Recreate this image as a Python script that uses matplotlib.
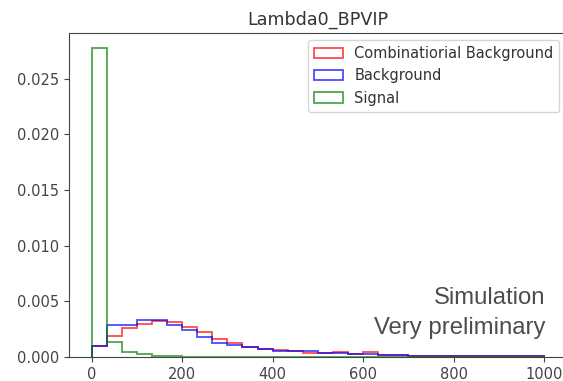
import numpy as np
import matplotlib
matplotlib.use("Agg")
import matplotlib.pyplot as plt

# bin edges: 30 bins between 0 and 1000
edges = np.linspace(0, 1000, 31)
centers = (edges[:-1] + edges[1:]) / 2

# normalised heights
comb_bkg = [0.00095, 0.0019, 0.0026, 0.0030, 0.0032, 0.0031, 0.0027, 0.0022, 0.0016, 0.0013,
            0.0009, 0.0007, 0.0006, 0.0005, 0.0004, 0.0004, 0.00042, 0.00027, 0.00042, 0.00018,
            0.00018, 0.00005, 0.00012, 0.00012, 0.00005, 0.00012, 0.00008, 0.00008, 0.00008, 0.00008]
background = [0.0010, 0.0029, 0.0029, 0.0033, 0.0033, 0.0029, 0.0024, 0.0018, 0.0013, 0.0011,
              0.0009, 0.0007, 0.0005, 0.0005, 0.0005, 0.0004, 0.00033, 0.00027, 0.00027, 0.00018,
              0.00018, 0.00005, 0.00012, 0.00012, 0.00005, 0.00012, 0.00008, 0.00008, 0.00008, 0.00008]
signal = [0.0277, 0.00138, 0.00048, 0.00024, 0.00012, 0.00008] + [0.0] * 24

labels = ["Combinatiorial Background", "Background", "Signal"]

plt.rcParams['font.size'] = 10.5
plt.rcParams['text.color'] = '#333333'
plt.rcParams['xtick.color'] = '#444444'
plt.rcParams['ytick.color'] = '#444444'
plt.rcParams['axes.edgecolor'] = '#444444'
plt.rcParams['axes.titlecolor'] = '#333333'

fig = plt.figure(figsize=(5.63, 3.81), dpi=100)
ax = fig.add_axes([0.1226, 0.063, 0.884, 0.8504])

ax.hist(centers, bins=edges, weights=comb_bkg, histtype='step', color='r', alpha=0.7, lw=1.3, label=labels[0])
ax.hist(centers, bins=edges, weights=background, histtype='step', color='b', alpha=0.7, lw=1.3, label=labels[1])
ax.hist(centers, bins=edges, weights=signal, histtype='step', color='g', alpha=0.7, lw=1.3, label=labels[2])

ax.set_title("Lambda0_BPVIP")
ax.set_xticks([0, 200, 400, 600, 800, 1000])
ax.legend(loc='upper right')

ax.text(1003, 0.0048, "Simulation", ha='right', va='baseline', fontsize=17.2,
        family='Liberation Sans', color='#4d4d4d')
ax.text(1003, 0.0021, "Very preliminary", ha='right', va='baseline', fontsize=17.2,
        family='Liberation Sans', color='#4d4d4d')

fig.savefig("out.png", dpi=100)
